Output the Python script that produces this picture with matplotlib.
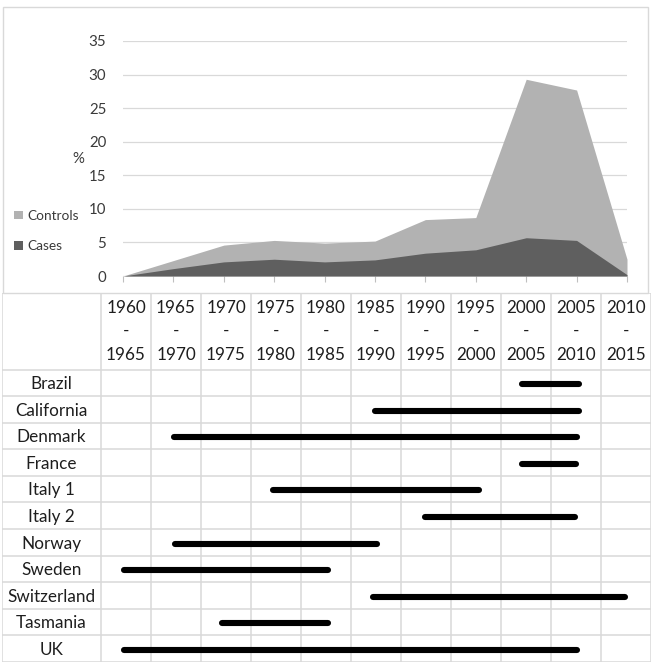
import matplotlib.pyplot as plt
from matplotlib.patches import Rectangle

# area chart data (% per period)
periods = ["1960", "1965", "1970", "1975", "1980", "1985", "1990", "1995", "2000", "2005", "2010"]
period_ends = ["1965", "1970", "1975", "1980", "1985", "1990", "1995", "2000", "2005", "2010", "2015"]
controls = [0.0, 2.3, 4.6, 5.3, 4.9, 5.2, 8.4, 8.7, 29.3, 27.7, 2.5]
cases = [0.0, 1.1, 2.1, 2.5, 2.1, 2.4, 3.4, 3.9, 5.7, 5.3, 0.2]

# study periods per country
countries = ["Brazil", "California", "Denmark", "France", "Italy 1", "Italy 2",
             "Norway", "Sweden", "Switzerland", "Tasmania", "UK"]
study_start = [2002.1, 1987.4, 1967.3, 2002.1, 1977.2, 1992.4, 1967.4, 1962.3, 1987.2, 1972.1, 1962.3]
study_end = [2007.8, 2007.8, 2007.6, 2007.5, 1997.8, 2007.4, 1987.6, 1982.7, 2012.4, 1982.7, 2007.6]

W, H = 653, 671
fig = plt.figure(figsize=(W / 100, H / 100), dpi=100)
plt.rcParams['font.family'] = ['Lato', 'DejaVu Sans']

def box(x0, y0, x1, y1):
    # pixel box (top-left origin) -> figure fraction rect
    return [x0 / W, 1 - y1 / H, (x1 - x0) / W, (y1 - y0) / H]

grid_c = '#d9d9d9'
text_c = '#3a3a3a'
tab_c = '#1e1e1e'

# chart frame
fig.patches.append(Rectangle((3 / W, 1 - 293 / H), 645 / W, 286 / H, transform=fig.transFigure,
                             fill=False, edgecolor=grid_c, lw=1.0))

ax = fig.add_axes(box(123, 41, 627, 276))
x = list(range(len(periods)))
h_ctrl = ax.fill_between(x, 0, controls, color='#b2b2b2', lw=0, zorder=2)
h_case = ax.fill_between(x, 0, cases, color='#5f5f5f', lw=0, zorder=3)
ax.set_xlim(0, len(periods) - 1)
ax.set_ylim(0, 35)
ax.set_yticks(range(0, 36, 5))
ax.yaxis.grid(True, color=grid_c, lw=0.9)
ax.set_axisbelow(True)
for s in ax.spines.values():
    s.set_visible(False)
ax.set_xticks(x)
ax.set_xticklabels([])
ax.tick_params(axis='x', length=4, color='#bfbfbf', width=0.8)
ax.tick_params(axis='y', length=0, pad=12, labelsize=10.8, labelcolor=text_c)
fig.text(78 / W, 1 - 159 / H, '%', ha='center', va='center', fontsize=10.8, color=text_c)

leg = fig.legend(handles=[h_ctrl, h_case], labels=['Controls', 'Cases'], loc='center left',
                 bbox_to_anchor=(9 / W, 1 - 231 / H), frameon=False,
                 handlelength=0.6, handleheight=0.6, handletextpad=0.35,
                 labelspacing=1.35, fontsize=9.8, borderaxespad=0)
for t in leg.get_texts():
    t.set_color(text_c)

# table
tab = fig.add_axes(box(2, 293, 651, 662))
hdr = 76.5 / 26.59
tab.set_xlim(1950.1, 2015.0)
tab.set_ylim(len(countries), -hdr)
tab.axis('off')
cols = [1950.1] + [int(p) for p in periods] + [2015.0]
for c in cols:
    tab.plot([c, c], [-hdr, len(countries)], color=grid_c, lw=1.1, zorder=1)
for r in range(len(countries) + 1):
    tab.plot([1950.1, 2015.0], [r, r], color=grid_c, lw=1.1, zorder=1)
tab.plot([1950.1, 2015.0], [-hdr, -hdr], color=grid_c, lw=1.1, zorder=1)

px_row = 26.59
for p, e in zip(periods, period_ends):
    cx = int(p) + 2.5
    tab.text(cx, -hdr + (308 - 293) / px_row, p, ha='center', va='center', fontsize=12.3, color=tab_c)
    tab.text(cx, -hdr + (331 - 293) / px_row, '-', ha='center', va='center', fontsize=12.3, color=tab_c)
    tab.text(cx, -hdr + (355 - 293) / px_row, e, ha='center', va='center', fontsize=12.3, color=tab_c)

for i, (name, s, e) in enumerate(zip(countries, study_start, study_end)):
    tab.text((1950.1 + 1960) / 2, i + 0.55, name, ha='center', va='center', fontsize=12.3, color=tab_c)
    tab.plot([s, e], [i + 0.55, i + 0.55], color='black', lw=4.4, solid_capstyle='round', zorder=3)

fig.savefig('out.png', dpi=100)
